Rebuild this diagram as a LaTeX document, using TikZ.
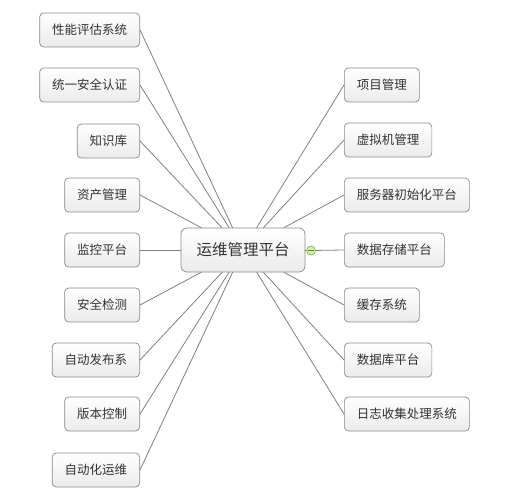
\documentclass[tikz,border=0pt]{standalone}
\usepackage{fontspec}
\newfontfamily\cjk{Noto Sans CJK SC}
\definecolor{boxline}{HTML}{8A8A8A}
\definecolor{boxbot}{HTML}{EBEBEB}
\definecolor{txt}{HTML}{333333}
\definecolor{linkgray}{HTML}{808080}
\definecolor{foldfill}{HTML}{D8EFB4}
\definecolor{folddraw}{HTML}{7AB648}
\definecolor{foldmark}{HTML}{4E8A2C}
\begin{document}
\begin{tikzpicture}[x=1pt, y=-1pt, line join=round, line cap=round,
    topic/.style={draw=boxline, line width=0.7pt, rounded corners=4pt, top color=white, bottom color=boxbot,
        text=txt, minimum height=34pt, inner xsep=12.5pt, font=\cjk\fontsize{12.5}{15}\selectfont},
    link/.style={draw=linkgray, line width=0.8pt}]
    \useasboundingbox (0,0) rectangle (517,500);
    % central topic
    \node[topic, minimum width=124pt, minimum height=44pt, rounded corners=6pt,
        font=\cjk\fontsize{15.5}{18}\selectfont] (main) at (243,250) {运维管理平台};
    % left branch
    \foreach \n/\y/\t in {l1/30/性能评估系统, l2/85/统一安全认证, l3/141/知识库, l4/195/资产管理, l5/250/监控平台,
        l6/305/安全检测, l7/360/自动发布系, l8/414/版本控制, l9/470/自动化运维}
        \node[topic, anchor=east] (\n) at (140,\y) {\t};
    % right branch
    \foreach \n/\y/\t in {r1/85/项目管理, r2/140/虚拟机管理, r3/195/服务器初始化平台, r4/250/数据存储平台,
        r5/305/缓存系统, r6/360/数据库平台, r7/414/日志收集处理系统}
        \node[topic, anchor=west] (\n) at (344,\y) {\t};
    \foreach \n in {l1,l2,l3,l4,l5,l6,l7,l8,l9} \draw[link] (main) -- (\n.east);
    \foreach \n in {r1,r2,r3,r5,r6,r7} \draw[link] (main) -- (\n.west);
    % collapse marker
    \node[circle, draw=folddraw, fill=foldfill, line width=0.7pt, minimum size=9pt, inner sep=0pt] (fold) at (311,250.5) {};
    \draw[link] (main) -- (fold) -- (r4.west);
    \draw[foldmark, line width=0.8pt] ([xshift=-2.6pt]fold.center) -- ([xshift=2.6pt]fold.center);
\end{tikzpicture}
\end{document}
